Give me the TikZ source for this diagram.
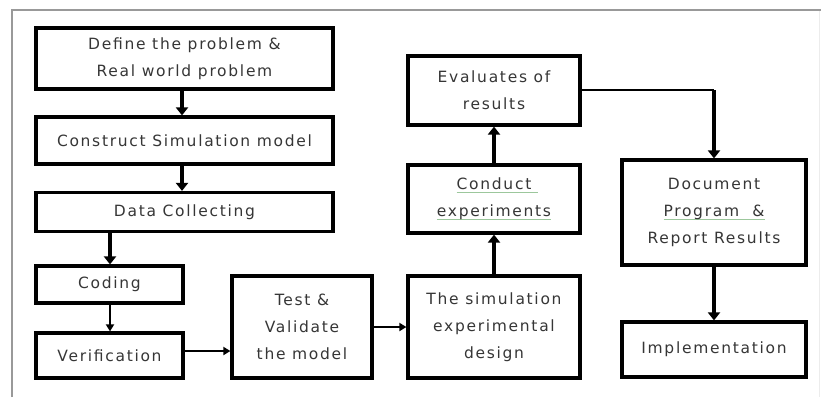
\documentclass[tikz,border=0pt]{standalone}
\usepackage{fontspec}
\usepackage{calc}
\setmainfont[LetterSpace=11]{DejaVu Sans}
\usetikzlibrary{arrows.meta}
\definecolor{txt}{HTML}{363636}
\definecolor{ulgreen}{HTML}{9CC79C}
\newcommand\gul[1]{\leavevmode\rlap{\color{ulgreen}\rule[-0.35ex]{\widthof{#1}}{0.6pt}}#1}
\tikzset{
  box/.style={draw=black, line width=3.2pt, fill=white, rectangle, align=center,
    text=txt, font=\fontsize{15.5}{27}\selectfont, inner sep=0pt},
  vflow/.style={line width=3.4pt, -{Triangle[length=8pt,width=12pt]}},
  hflow/.style={line width=2.2pt, -{Triangle[length=7pt,width=8pt]}},
}
\begin{document}
\begin{tikzpicture}[x=1pt,y=-1pt]
\useasboundingbox (0,0) rectangle (821,397);
\fill[white] (0,0) rectangle (821,397);
% frame
\draw[gray!80, line width=1.6pt] (12,397) -- (12,10) -- (821,10);
\draw[gray!15, line width=0.8pt] (819,11) -- (819,397);
% boxes
\node[box, minimum width=297pt, minimum height=61pt] (def) at (184.5,58.5) {Define the problem \&\\Real world problem};
\node[box, minimum width=297pt, minimum height=47pt] (con) at (184.5,140.5) {Construct Simulation model};
\node[box, minimum width=297pt, minimum height=39pt] (dat) at (184.5,212) {Data Collecting};
\node[box, minimum width=147pt, minimum height=37pt] (cod) at (109.5,284.5) {Coding};
\node[box, minimum width=147pt, minimum height=45pt] (ver) at (109.5,355.5) {Verification};
\node[box, minimum width=140pt, minimum height=102pt] (tes) at (302,327) {Test \&\\Validate\\the model};
\node[box, minimum width=172pt, minimum height=102pt] (sim) at (494,327) {The simulation\\experimental\\design};
\node[box, minimum width=172pt, minimum height=68pt] (cnd) at (494,199) {\gul{Conduct\ }\\\gul{experiments}};
\node[box, minimum width=172pt, minimum height=69pt] (eva) at (494,90.5) {Evaluates of\\results};
\node[box, minimum width=184pt, minimum height=105pt] (doc) at (714,212.5) {Document\\\gul{Program\ \ \&}\\Report Results};
\node[box, minimum width=184pt, minimum height=55pt] (imp) at (714,349.5) {Implementation};
% connectors
\draw[vflow] (def.south -| 182,0) -- (con.north -| 182,0);
\draw[vflow] (con.south -| 182,0) -- (dat.north -| 182,0);
\draw[vflow] (dat.south -| 110,0) -- (cod.north -| 110,0);
\draw[hflow, line width=2.6pt] (cod.south -| 110,0) -- (ver.north -| 110,0);
\draw[hflow] (ver.east |- 0,351) -- (tes.west |- 0,351);
\draw[hflow] (tes.east) -- (sim.west);
\draw[vflow] (sim.north) -- (cnd.south);
\draw[vflow] (cnd.north) -- (eva.south);
\coordinate (bend) at (714,90);
\draw[line width=2.2pt] (eva.east |- bend) -- (bend);
\draw[vflow] (bend) -- (doc.north);
\draw[vflow] (doc.south) -- (imp.north);
\end{tikzpicture}
\end{document}
